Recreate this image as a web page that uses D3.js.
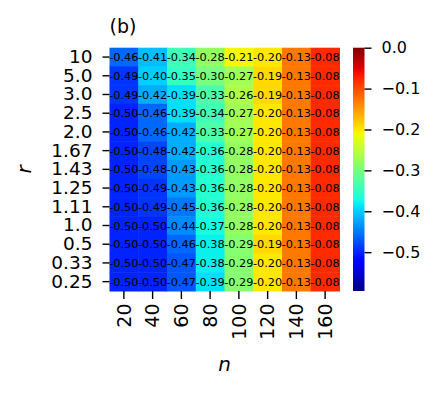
<!DOCTYPE html>
<html><head><meta charset="utf-8">
<script src="https://cdn.jsdelivr.net/npm/d3@7"></script>
<style>body{margin:0;background:#fff}svg{display:block}text{font-family:"DejaVu Sans",sans-serif;fill:#000}</style>
</head><body><svg id="c" width="439" height="395"></svg>
<script>
const nLabels = ["20","40","60","80","100","120","140","160"];
const rLabels = ["10","5.0","3.0","2.5","2.0","1.67","1.43","1.25","1.11","1.0","0.5","0.33","0.25"];
const values = [
 [-0.46,-0.41,-0.34,-0.28,-0.21,-0.20,-0.13,-0.08],
 [-0.49,-0.40,-0.35,-0.30,-0.27,-0.19,-0.13,-0.08],
 [-0.49,-0.42,-0.39,-0.33,-0.26,-0.19,-0.13,-0.08],
 [-0.50,-0.46,-0.39,-0.34,-0.27,-0.20,-0.13,-0.08],
 [-0.50,-0.46,-0.42,-0.33,-0.27,-0.20,-0.13,-0.08],
 [-0.50,-0.48,-0.42,-0.36,-0.28,-0.20,-0.13,-0.08],
 [-0.50,-0.48,-0.43,-0.36,-0.28,-0.20,-0.13,-0.08],
 [-0.50,-0.49,-0.43,-0.36,-0.28,-0.20,-0.13,-0.08],
 [-0.50,-0.49,-0.45,-0.36,-0.28,-0.20,-0.13,-0.08],
 [-0.50,-0.50,-0.44,-0.37,-0.28,-0.20,-0.13,-0.08],
 [-0.50,-0.50,-0.46,-0.38,-0.29,-0.19,-0.13,-0.08],
 [-0.50,-0.50,-0.47,-0.38,-0.29,-0.20,-0.13,-0.08],
 [-0.50,-0.50,-0.47,-0.39,-0.29,-0.20,-0.13,-0.08]
];
const cbTicks = [0.0,-0.1,-0.2,-0.3,-0.4,-0.5];
const vmin = -0.595, vmax = 0.0;

// matplotlib jet
const rS = d3.scaleLinear().domain([0,0.35,0.66,0.89,1]).range([0,0,1,1,0.5]).clamp(true);
const gS = d3.scaleLinear().domain([0,0.125,0.375,0.64,0.91,1]).range([0,0,1,1,0,0]).clamp(true);
const bS = d3.scaleLinear().domain([0,0.11,0.34,0.65,1]).range([0.5,1,1,0,0]).clamp(true);
const norm = d3.scaleLinear().domain([vmin,vmax]).range([0,1]).clamp(true);
const jet = v => { const t = norm(v); return d3.rgb(rS(t)*255, gS(t)*255, bS(t)*255).toString(); };

const svg = d3.select("#c");
const L=109.5, R=339.5, T=47.7, B=291;
const x = d3.scaleBand().domain(nLabels).range([L,R]);
const y = d3.scaleBand().domain(rLabels).range([T,B]);

const cells = [];
values.forEach((row,i)=>row.forEach((v,j)=>cells.push({r:rLabels[i],n:nLabels[j],v})));
svg.append("g").selectAll("rect").data(cells).join("rect")
  .attr("x",d=>x(d.n)).attr("y",d=>y(d.r))
  .attr("width",x.bandwidth()+0.5).attr("height",y.bandwidth()+0.5)
  .attr("fill",d=>jet(d.v));

// y axis
const ya = svg.append("g").attr("transform",`translate(${L},0)`)
  .call(d3.axisLeft(y).tickSize(7).tickPadding(10));
ya.select(".domain").remove();
ya.selectAll(".tick line").attr("stroke","#000").attr("stroke-width",1.4);
ya.selectAll(".tick text").attr("font-size",18.5).attr("font-family","DejaVu Sans");

// x axis
const xa = svg.append("g").attr("transform",`translate(0,${B})`)
  .call(d3.axisBottom(x).tickSize(8).tickPadding(10));
xa.select(".domain").remove();
xa.selectAll(".tick line").attr("stroke","#000").attr("stroke-width",1.4);
xa.selectAll(".tick text").attr("font-size",19).attr("font-family","DejaVu Sans")
  .attr("transform","rotate(-90)").attr("text-anchor","end")
  .attr("x",-12.5).attr("y",0).attr("dy","0.35em");

// annotations
svg.append("g").selectAll("text").data(cells).join("text")
  .attr("x",d=>x(d.n)+x.bandwidth()/2).attr("y",d=>y(d.r)+y.bandwidth()/2)
  .attr("text-anchor","middle").attr("dy","0.36em").attr("font-size",11.3)
  .text(d=>d3.format(".2f")(d.v).replace("−","-"));

// labels
svg.append("text").attr("x",(L+R)/2).attr("y",371).attr("text-anchor","middle")
  .attr("font-size",20).attr("font-style","italic").text("n");
svg.append("text").attr("transform",`translate(31,${(T+B)/2}) rotate(-90)`).attr("text-anchor","middle")
  .attr("font-size",20).attr("font-style","italic").text("r");
svg.append("text").attr("x",L).attr("y",33).attr("font-size",19).text("(b)");

// colorbar
const cbL=353, cbW=11.5;
const cy = d3.scaleLinear().domain([vmin,vmax]).range([B,T]);
const defs = svg.append("defs");
const grad = defs.append("linearGradient").attr("id","jetg").attr("x1",0).attr("y1",1).attr("x2",0).attr("y2",0);
d3.range(0,1.0001,0.02).forEach(t=>grad.append("stop").attr("offset",t).attr("stop-color",jet(vmin+t*(vmax-vmin))));
svg.append("rect").attr("x",cbL).attr("y",T).attr("width",cbW).attr("height",B-T).attr("fill","url(#jetg)");
const ca = svg.append("g").attr("transform",`translate(${cbL+cbW},0)`)
  .call(d3.axisRight(cy).tickValues(cbTicks).tickSize(7).tickPadding(10).tickFormat(d=>d===0?"0.0":d3.format(".1f")(d)));
ca.select(".domain").remove();
ca.selectAll(".tick line").attr("stroke","#000").attr("stroke-width",1.4);
ca.selectAll(".tick text").attr("font-size",16).attr("font-family","DejaVu Sans");
</script></body></html>
